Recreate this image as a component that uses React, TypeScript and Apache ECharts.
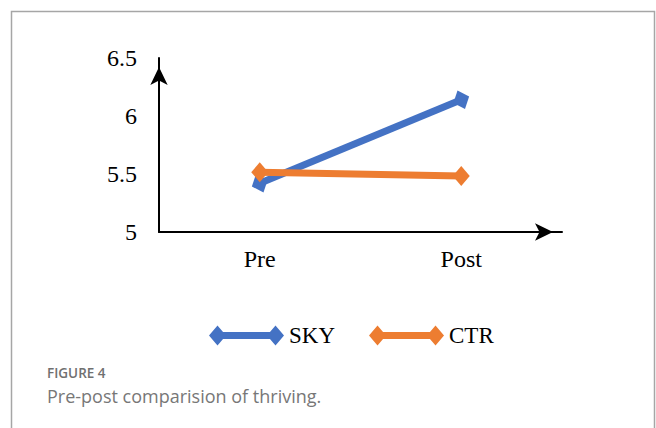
import React, { useEffect, useRef } from "react";
import * as echarts from "echarts";

const categories = ["Pre", "Post"];
const skyValues = [5.42, 6.14];
const ctrValues = [5.515, 5.483];
const yMin = 5;
const yMax = 6.5;
const yStep = 0.5;
const figureLabel = "FIGURE 4";
const captionText = "Pre-post comparision of thriving.";

const legendIcon =
  "path://M0,10 L8.5,0 L17,10 L8.5,20 Z M8.5,6.5 L66.5,6.5 L66.5,13.5 L8.5,13.5 Z M58,10 L66.5,0 L75,10 L66.5,20 Z";

export default function App() {
  const ref = useRef<HTMLDivElement>(null);
  useEffect(() => {
    document.body.style.margin = "0";
    if (!ref.current) return;
    const chart = echarts.init(ref.current, null, { renderer: "svg" });
    const serif = "'Liberation Serif', 'Times New Roman', serif";
    chart.setOption({
      animation: false,
      backgroundColor: "#ffffff",
      grid: { left: 159, right: 94, top: 58, bottom: 196, containLabel: false },
      legend: {
        left: 204,
        top: 319,
        itemWidth: 75,
        itemHeight: 20,
        itemGap: 34,
        icon: legendIcon,
        textStyle: { fontFamily: serif, fontSize: 23, color: "#000" },
        data: ["SKY", "CTR"],
      },
      xAxis: {
        type: "category",
        data: categories,
        boundaryGap: true,
        axisLine: {
          lineStyle: { color: "#000", width: 2 },
          symbol: ["none", "arrow"],
          symbolSize: [13, 18],
          symbolOffset: [0, -9],
        },
        axisTick: { show: false },
        axisLabel: { fontFamily: serif, fontSize: 24, color: "#000", margin: 15 },
        splitLine: { show: false },
      },
      yAxis: {
        type: "value",
        min: yMin,
        max: yMax,
        interval: yStep,
        axisLine: {
          show: true,
          lineStyle: { color: "#000", width: 2 },
          symbol: ["none", "arrow"],
          symbolSize: [13, 18],
          symbolOffset: [0, -9],
        },
        axisTick: { show: false },
        splitLine: { show: false },
        axisLabel: { fontFamily: serif, fontSize: 24, color: "#000", margin: 22 },
      },
      series: [
        {
          name: "SKY",
          type: "line",
          data: skyValues,
          color: "#4472C4",
          lineStyle: { width: 7, color: "#4472C4" },
          symbol: "diamond",
          symbolSize: [17, 20],
          symbolRotate: 22,
          itemStyle: { color: "#4472C4" },
        },
        {
          name: "CTR",
          type: "line",
          data: ctrValues,
          color: "#ED7D31",
          lineStyle: { width: 7, color: "#ED7D31" },
          symbol: "diamond",
          symbolSize: [17, 20],
          itemStyle: { color: "#ED7D31" },
        },
      ],
      graphic: [
        {
          type: "rect",
          shape: { x: 11.5, y: 11.5, width: 643, height: 500 },
          style: { fill: "none", stroke: "#a6a6a6", lineWidth: 1.5 },
          silent: true,
        },
        {
          type: "text",
          x: 47,
          y: 373,
          style: {
            text: figureLabel,
            font: "600 13.5px 'Open Sans', Lato, sans-serif",
            fill: "#707070",
            verticalAlign: "middle",
          },
        },
        {
          type: "text",
          x: 47,
          y: 396,
          style: {
            text: captionText,
            font: "18px 'Open Sans', Lato, sans-serif",
            fill: "#777777",
            verticalAlign: "middle",
          },
        },
      ],
    });
    return () => chart.dispose();
  }, []);
  return <div ref={ref} style={{ width: 656, height: 428 }} />;
}
